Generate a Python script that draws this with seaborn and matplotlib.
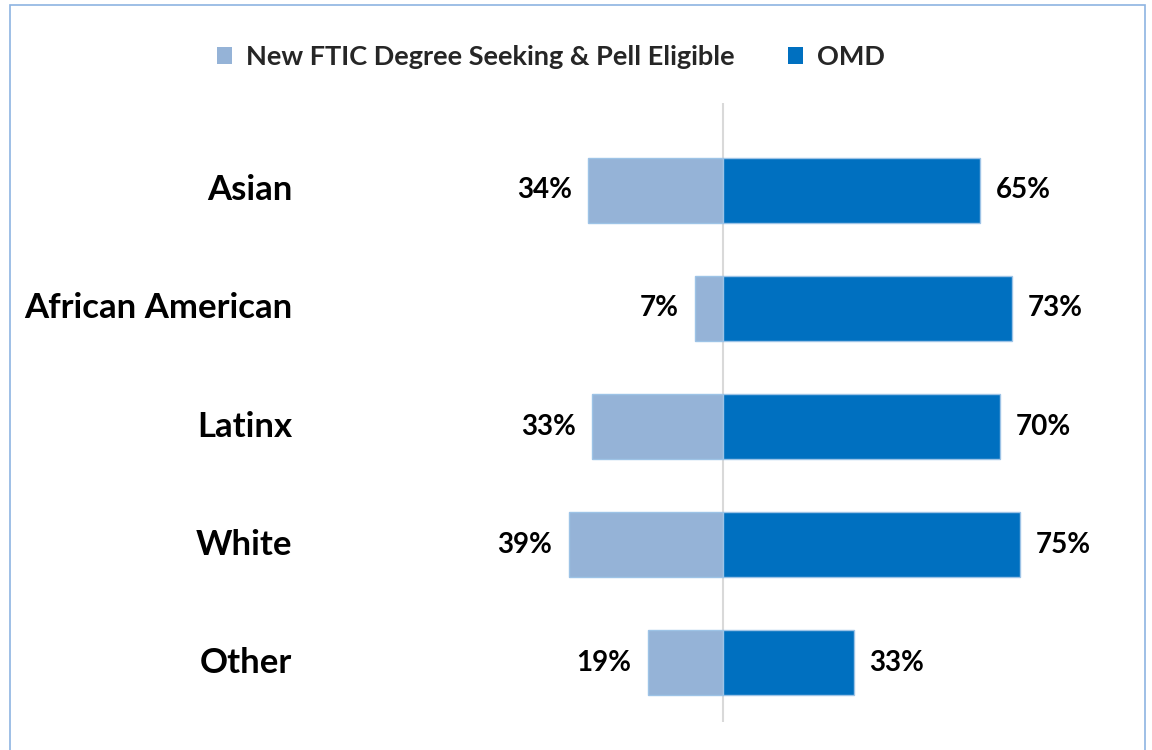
import pandas as pd
import seaborn as sns
import matplotlib.pyplot as plt
from matplotlib.patches import Patch, Rectangle

# Data
groups = ['Asian', 'African American', 'Latinx', 'White', 'Other']
pell_eligible = [34, 7, 33, 39, 19]
omd = [65, 73, 70, 75, 33]
series_names = ['New FTIC Degree Seeking & Pell Eligible', 'OMD']
colors = ['#95B3D7', '#0070C0']

sns.set_theme(style="white")
plt.rcParams['font.family'] = ['Lato', 'DejaVu Sans']

df = pd.DataFrame({
    'group': groups * 2,
    'value': [-v for v in pell_eligible] + omd,
    'series': [series_names[0]] * len(groups) + [series_names[1]] * len(groups),
})

fig = plt.figure(figsize=(11.52, 7.5), dpi=100)
ax = fig.add_axes([300 / 1152, 1 - 722 / 750, 840 / 1152, 619 / 750])

sns.barplot(data=df, y='group', x='value', hue='series', orient='h', dodge=False,
            palette=colors, saturation=1, width=0.55, ax=ax, legend=False,
            edgecolor='#9DC3E6', linewidth=1)

ax.set_xlim(-106.8, 105.3)
ax.set_ylim(4.5, -0.737)
ax.axvline(0, color='#D9D9D9', linewidth=1.5, zorder=0)
ax.set_xticks([])
ax.set_yticks([])
ax.set_xlabel('')
ax.set_ylabel('')
for s in ax.spines.values():
    s.set_visible(False)

# category labels
for i, g in enumerate(groups):
    ax.text(-108.8, i, g, ha='right', va='center', fontsize=25, fontweight='bold',
            color='black', clip_on=False)

# value labels
for i, (l, r) in enumerate(zip(pell_eligible, omd)):
    ax.text(-l - 4.2, i, f'{l}%', ha='right', va='center', fontsize=20,
            fontweight='bold', color='black')
    ax.text(r + 4.0, i, f'{r}%', ha='left', va='center', fontsize=20,
            fontweight='bold', color='black')

# legend
handles = [Patch(facecolor=c, edgecolor='none') for c in colors]
fig.legend(handles, series_names, loc='center', bbox_to_anchor=(551 / 1152, 1 - 57 / 750),
           ncol=2, frameon=False, handlelength=0.55, handleheight=0.55,
           handletextpad=0.5, columnspacing=2.0,
           prop={'weight': 'bold', 'size': 19.5})

# outer border
fig.add_artist(Rectangle((10 / 1152, -0.05), 1135 / 1152, 1.05 - 5 / 750,
                         transform=fig.transFigure, fill=False,
                         edgecolor='#8DB4E2', linewidth=1.2))

plt.savefig('out.png', dpi=100)
plt.close()
